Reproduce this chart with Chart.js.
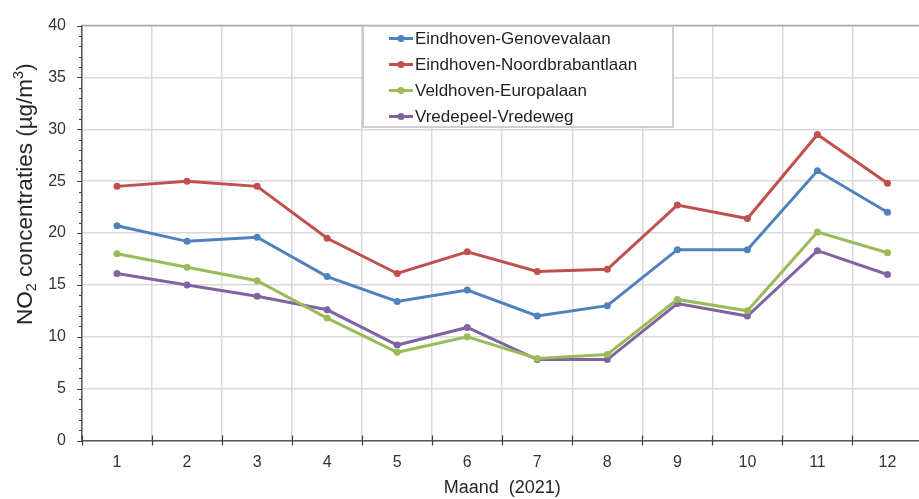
<!DOCTYPE html>
<html>
<head>
<meta charset="utf-8">
<script src="https://cdn.jsdelivr.net/npm/chart.js@4/dist/chart.umd.min.js"></script>
<style>
  html, body { margin: 0; padding: 0; overflow: hidden; background: #ffffff; }
  #wrap { position: relative; width: 926px; height: 499px; }
  #no2 { display: block; }
</style>
</head>
<body>
<div id="wrap"><canvas id="no2" width="926" height="499"></canvas></div>
<script>
// Maandgemiddelde NO2-concentraties 2021 (µg/m³)
const months = ['1', '2', '3', '4', '5', '6', '7', '8', '9', '10', '11', '12'];
const genovevalaan     = [20.7, 19.2, 19.6, 15.8, 13.4, 14.5, 12.0, 13.0, 18.4, 18.4, 26.0, 22.0];
const noordbrabantlaan = [24.5, 25.0, 24.5, 19.5, 16.1, 18.2, 16.3, 16.5, 22.7, 21.4, 29.5, 24.8];
const europalaan       = [18.0, 16.7, 15.4, 11.8,  8.5, 10.0,  7.9,  8.3, 13.6, 12.5, 20.1, 18.1];
const vredeweg         = [16.1, 15.0, 13.9, 12.6,  9.2, 10.9,  7.8,  7.8, 13.2, 12.0, 18.3, 16.0];
const stations = ['Eindhoven-Genovevalaan', 'Eindhoven-Noordbrabantlaan', 'Veldhoven-Europalaan', 'Vredepeel-Vredeweg'];
const yTicks = { min: 0, max: 40, step: 5, minorStep: 1 };

const colors = ['#4F81BD', '#C0504D', '#9BBB59', '#8064A2'];
const FONT = '"Liberation Sans", Arial, sans-serif';

function series(label, data, color) {
  return {
    label, data,
    borderColor: color, backgroundColor: color,
    borderWidth: 3, tension: 0,
    pointRadius: 3.5, pointHoverRadius: 3.5,
    pointBackgroundColor: color, pointBorderWidth: 0
  };
}

// Tick marks on both axes (major + minor on y, category boundaries on x)
const axisTicks = {
  id: 'axisTicks',
  beforeDatasetsDraw(chart) {
    const { ctx, chartArea: a, scales: { x, y } } = chart;
    ctx.save();
    // plot border at top
    ctx.strokeStyle = '#a6a6a6';
    ctx.lineWidth = 1.5;
    ctx.beginPath(); ctx.moveTo(a.left, a.top); ctx.lineTo(a.right, a.top); ctx.stroke();

    ctx.strokeStyle = '#404040';
    ctx.lineWidth = 1.2;
    ctx.beginPath();
    for (let v = yTicks.min; v <= yTicks.max; v += yTicks.minorStep) {
      const py = Math.round(y.getPixelForValue(v)) + 0.5;
      const len = v % yTicks.step === 0 ? 5 : 3;
      ctx.moveTo(a.left - len, py); ctx.lineTo(a.left, py);
    }
    const half = (x.getPixelForValue(1) - x.getPixelForValue(0)) / 2;
    for (let i = 0; i <= months.length; i++) {
      const px = Math.round(x.getPixelForValue(i) - half) + 0.5;
      ctx.moveTo(px, a.bottom - 5); ctx.lineTo(px, a.bottom + 5);
    }
    ctx.stroke();
    ctx.restore();
  }
};

// Axis titles, with sub- and superscript on the y title
const axisTitles = {
  id: 'axisTitles',
  afterDraw(chart) {
    const { ctx, chartArea: a } = chart;
    ctx.save();
    ctx.fillStyle = '#262626';
    ctx.textBaseline = 'alphabetic';
    ctx.textAlign = 'center';
    ctx.font = '18px ' + FONT;
    ctx.fillText('Maand  (2021)', (a.left + a.right) / 2, 493);

    // y title, reading bottom to top
    const big = 22.5, small = 14.5;
    const parts = [
      { t: 'NO', size: big, dy: 0 },
      { t: '2', size: small, dy: 4 },
      { t: ' concentraties (µg/m', size: big, dy: 0 },
      { t: '3', size: small, dy: -9 },
      { t: ')', size: big, dy: 0 }
    ];
    ctx.translate(32, 325);
    ctx.rotate(-Math.PI / 2);
    ctx.textAlign = 'left';
    let cx = 0;
    for (const p of parts) {
      ctx.font = p.size + 'px ' + FONT;
      ctx.fillText(p.t, cx, p.dy);
      cx += ctx.measureText(p.t).width;
    }
    ctx.restore();
  }
};

// Boxed legend with line-and-marker samples
const boxLegend = {
  id: 'boxLegend',
  afterDatasetsDraw(chart) {
    const { ctx } = chart;
    const box = { x: 363, y: 26, w: 310, h: 101 };
    ctx.save();
    ctx.fillStyle = '#ffffff';
    ctx.fillRect(box.x, box.y, box.w, box.h);
    ctx.strokeStyle = '#bfbfbf';
    ctx.lineWidth = 1.5;
    ctx.strokeRect(box.x, box.y, box.w, box.h);
    ctx.font = '17px ' + FONT;
    ctx.textBaseline = 'middle';
    ctx.textAlign = 'left';
    chart.data.datasets.forEach((ds, i) => {
      const cy = 38.5 + i * 26;
      ctx.strokeStyle = ds.borderColor;
      ctx.lineWidth = 3;
      ctx.beginPath(); ctx.moveTo(389, cy); ctx.lineTo(413, cy); ctx.stroke();
      ctx.fillStyle = ds.borderColor;
      ctx.beginPath(); ctx.arc(401, cy, 3.5, 0, Math.PI * 2); ctx.fill();
      ctx.fillStyle = '#1f1f1f';
      ctx.fillText(ds.label, 415, cy + 1);
    });
    ctx.restore();
  }
};

new Chart(document.getElementById('no2'), {
  type: 'line',
  data: {
    labels: months,
    datasets: [
      series(stations[0], genovevalaan, colors[0]),
      series(stations[1], noordbrabantlaan, colors[1]),
      series(stations[2], europalaan, colors[2]),
      series(stations[3], vredeweg, colors[3])
    ]
  },
  options: {
    responsive: false,
    maintainAspectRatio: false,
    animation: false,
    events: [],
    layout: { padding: { top: 20.5, right: 0, bottom: 0, left: 0 } },
    plugins: { legend: { display: false }, tooltip: { enabled: false } },
    scales: {
      x: {
        offset: true,
        grid: { offset: true, color: '#d9d9d9', lineWidth: 1.5, drawTicks: false },
        border: { color: '#595959', width: 1.5 },
        ticks: { color: '#333333', font: { family: FONT, size: 16 }, padding: 12, maxRotation: 0 },
        afterFit(s) { s.height = 58.5; }
      },
      y: {
        min: yTicks.min, max: yTicks.max,
        grid: { color: '#d9d9d9', lineWidth: 1.5, drawTicks: false },
        border: { color: '#595959', width: 1.5 },
        ticks: { stepSize: yTicks.step, color: '#333333', font: { family: FONT, size: 16 }, padding: 16 },
        afterFit(s) { s.width = 82; }
      }
    }
  },
  plugins: [axisTicks, boxLegend, axisTitles]
});
</script>
</body>
</html>
